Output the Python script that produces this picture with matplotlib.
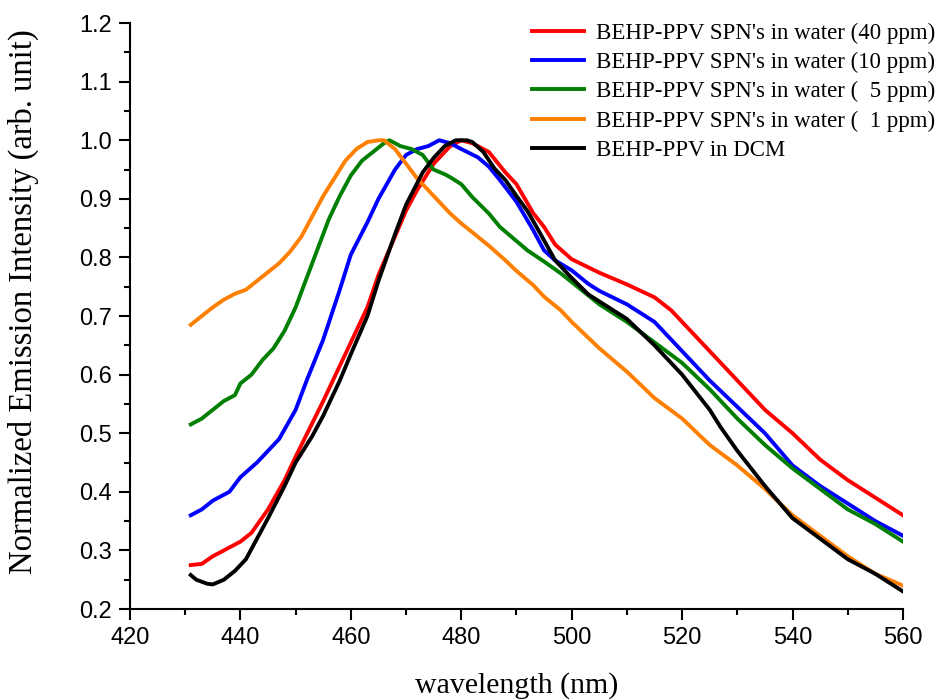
import matplotlib
matplotlib.use("Agg")
import matplotlib.pyplot as plt
from matplotlib.ticker import MultipleLocator

# ---- spectra (wavelength nm, normalized intensity) ----
wl_40 = [431, 433, 435, 437, 440, 442, 445, 448, 450, 455, 460, 463, 465, 470, 472, 475,
         478, 480, 482, 485, 488, 490, 493, 495, 497, 500, 505, 510, 515, 518, 520, 525,
         530, 535, 540, 545, 550, 555, 560]
int_40 = [0.275, 0.277, 0.29, 0.30, 0.315, 0.33, 0.37, 0.42, 0.46, 0.555, 0.655, 0.715,
          0.77, 0.88, 0.915, 0.96, 0.99, 1.0, 0.995, 0.98, 0.945, 0.925, 0.876, 0.852,
          0.822, 0.797, 0.774, 0.754, 0.732, 0.71, 0.69, 0.64, 0.59, 0.54, 0.50, 0.455,
          0.42, 0.39, 0.36]

wl_10 = [431, 433, 435, 438, 440, 443, 445, 447, 450, 452, 455, 458, 460, 463, 465, 468,
         470, 472, 474, 476, 478, 480, 483, 485, 487, 490, 493, 495, 497, 500, 503, 505,
         510, 515, 518, 520, 525, 530, 535, 540, 545, 550, 555, 560]
int_10 = [0.36, 0.37, 0.385, 0.40, 0.425, 0.45, 0.47, 0.49, 0.54, 0.59, 0.66, 0.745, 0.805,
          0.86, 0.90, 0.95, 0.975, 0.985, 0.99, 1.0, 0.995, 0.985, 0.971, 0.955, 0.932,
          0.895, 0.847, 0.812, 0.795, 0.778, 0.755, 0.743, 0.72, 0.69, 0.66, 0.64, 0.59,
          0.545, 0.50, 0.445, 0.41, 0.38, 0.35, 0.325]

wl_5 = [431, 433, 435, 437, 439, 440, 442, 444, 446, 448, 450, 452, 454, 456, 458, 460,
        462, 464, 466, 467, 469, 471, 473, 475, 477, 478, 480, 482, 485, 487, 490, 492,
        495, 498, 500, 505, 510, 515, 520, 525, 530, 535, 540, 545, 550, 555, 560]
int_5 = [0.515, 0.525, 0.54, 0.555, 0.565, 0.585, 0.60, 0.625, 0.645, 0.675, 0.715, 0.765,
         0.815, 0.865, 0.905, 0.94, 0.965, 0.98, 0.995, 1.0, 0.99, 0.985, 0.975, 0.95,
         0.942, 0.937, 0.925, 0.903, 0.875, 0.852, 0.828, 0.812, 0.793, 0.773, 0.758,
         0.72, 0.69, 0.655, 0.62, 0.575, 0.525, 0.48, 0.44, 0.405, 0.37, 0.345, 0.315]

wl_1 = [431, 433, 435, 437, 439, 441, 443, 445, 447, 449, 451, 453, 455, 457, 459, 461,
        463, 465, 466, 468, 470, 472, 474, 476, 478, 480, 482, 485, 488, 490, 493, 495,
        498, 500, 505, 510, 515, 520, 525, 530, 535, 540, 545, 550, 555, 560]
int_1 = [0.685, 0.70, 0.715, 0.728, 0.738, 0.745, 0.76, 0.775, 0.79, 0.81, 0.835, 0.87,
         0.905, 0.935, 0.965, 0.985, 0.997, 1.0, 1.0, 0.985, 0.96, 0.935, 0.915, 0.895,
         0.875, 0.858, 0.843, 0.82, 0.795, 0.777, 0.753, 0.733, 0.71, 0.69, 0.645, 0.605,
         0.56, 0.525, 0.48, 0.445, 0.405, 0.36, 0.325, 0.29, 0.26, 0.24]

wl_dcm = [431, 432, 434, 435, 437, 439, 441, 443, 445, 448, 450, 453, 455, 458, 460, 463,
          465, 468, 470, 473, 475, 477, 479, 481, 482, 484, 486, 488, 490, 492, 494, 497,
          500, 503, 505, 510, 515, 520, 525, 527, 530, 535, 540, 545, 550, 555, 560]
int_dcm = [0.258, 0.25, 0.243, 0.242, 0.25, 0.265, 0.285, 0.32, 0.355, 0.41, 0.45, 0.495,
           0.53, 0.59, 0.635, 0.70, 0.76, 0.84, 0.89, 0.945, 0.97, 0.99, 1.0, 1.0,
           0.997, 0.98, 0.952, 0.932, 0.905, 0.879, 0.846, 0.795, 0.765, 0.737, 0.725,
           0.695, 0.65, 0.60, 0.54, 0.51, 0.47, 0.41, 0.355, 0.32, 0.285, 0.26, 0.23]

labels = ["BEHP-PPV SPN's in water (40 ppm)",
          "BEHP-PPV SPN's in water (10 ppm)",
          "BEHP-PPV SPN's in water (  5 ppm)",
          "BEHP-PPV SPN's in water (  1 ppm)",
          "BEHP-PPV in DCM"]
colors = ["#ff0000", "#0000ff", "#007f00", "#ff8000", "#000000"]

fig = plt.figure(figsize=(9.36, 7.0), dpi=100)
ax = fig.add_axes([0.1389, 0.13, 0.8258, 0.837])

series = [(wl_40, int_40), (wl_10, int_10), (wl_5, int_5), (wl_1, int_1), (wl_dcm, int_dcm)]
for (x, y), lab, c in zip(series, labels, colors):
    ax.plot(x, y, color=c, lw=2.8, label=lab)

ax.set_xlim(420, 560)
ax.set_ylim(0.2, 1.2)
ax.xaxis.set_major_locator(MultipleLocator(20))
ax.xaxis.set_minor_locator(MultipleLocator(10))
ax.yaxis.set_major_locator(MultipleLocator(0.1))
ax.yaxis.set_minor_locator(MultipleLocator(0.05))

for side in ("top", "right"):
    ax.spines[side].set_visible(False)
for side in ("left", "bottom"):
    ax.spines[side].set_linewidth(1.5)

ax.tick_params(which="major", direction="out", length=8, width=1.5,
               labelsize=17, pad=5)
ax.tick_params(which="minor", direction="out", length=4.5, width=1.5)
for t in ax.get_xticklabels() + ax.get_yticklabels():
    t.set_fontfamily("Liberation Sans")

ax.set_xlabel("wavelength (nm)", family="Liberation Serif", fontsize=21.5)
ax.set_ylabel("Normalized Emission Intensity (arb. unit)", family="Liberation Serif",
              fontsize=23.5)
ax.xaxis.set_label_coords(0.5, -0.108)
ax.yaxis.set_label_coords(-0.118, 0.525)

leg = ax.legend(loc="upper right", bbox_to_anchor=(0.999, 0.968),
                bbox_transform=fig.transFigure, frameon=False, borderpad=0,
                borderaxespad=0,
                prop={"family": "Liberation Serif", "size": 16.5},
                handlelength=2.27, handletextpad=0.52, labelspacing=0.36)

fig.savefig("out.png", dpi=100)
